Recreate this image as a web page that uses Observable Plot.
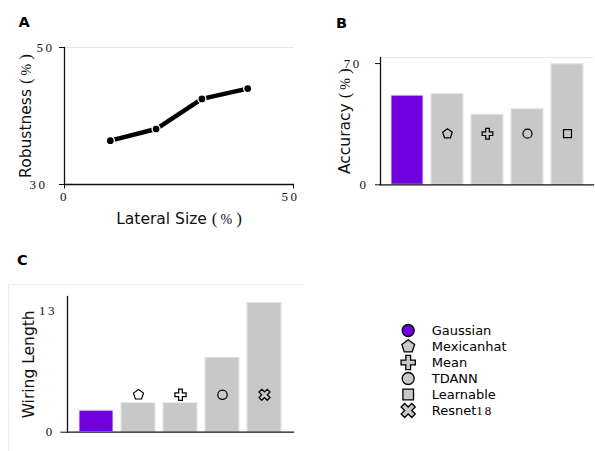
<!DOCTYPE html>
<html><head><meta charset="utf-8">
<script src="https://cdn.jsdelivr.net/npm/d3@7"></script>
<script src="https://cdn.jsdelivr.net/npm/@observablehq/plot@0.6"></script>
<style>
body{margin:0;background:#fff;}
#root{position:relative;width:595px;height:451px;overflow:hidden;background:#fff;}
#root .pane{position:absolute;}
#root [aria-label$="tick label"]{letter-spacing:2.5px;}
</style></head><body><div id="root"></div>
<script>
// ---- data ----
const lateralSize = [10, 20, 30, 40];
const robustness = [36.4, 38.1, 42.5, 44.0];
const accuracyMethods = ["Gaussian", "Mexicanhat", "Mean", "TDANN", "Learnable"];
const accuracy = [51.5, 52.4, 40.5, 43.6, 69.6];
const wiringMethods = ["Gaussian", "Mexicanhat", "Mean", "TDANN", "Resnet18"];
const wiringLength = [2.3, 3.1, 3.1, 7.95, 13.8];
const legendNames = ["Gaussian", "Mexicanhat", "Mean", "TDANN", "Learnable", "Resnet18"];
const panelLabels = ["A", "B", "C"];

const PURPLE = "#7000dd", GRAY = "#c8c8c8";
const SERIF = "'Liberation Serif', 'DejaVu Serif', serif";
const SANS = "'DejaVu Sans', sans-serif";

// ---- custom symbols ----
const pentagon = {draw(ctx, size) {
  const R = Math.sqrt(size / Math.PI) * 1.12;
  for (let k = 0; k < 5; k++) {
    const a = -Math.PI / 2 + k * 2 * Math.PI / 5;
    const x = R * Math.cos(a), y = R * Math.sin(a);
    if (k) ctx.lineTo(x, y); else ctx.moveTo(x, y);
  }
  ctx.closePath();
}};
const xcross = {draw(ctx, size) {
  const s = Math.sqrt(size / 5) / 2 * 1.05;
  const pts = [[-3,-1],[-1,-1],[-1,-3],[1,-3],[1,-1],[3,-1],[3,1],[1,1],[1,3],[-1,3],[-1,1],[-3,1]];
  pts.forEach(([px, py], k) => {
    const x = (px - py) * s / Math.SQRT2, y = (px + py) * s / Math.SQRT2;
    if (k) ctx.lineTo(x, y); else ctx.moveTo(x, y);
  });
  ctx.closePath();
}};
const symbolRange = [d3.symbolCircle, pentagon, d3.symbolCross, d3.symbolCircle, d3.symbolSquare, xcross];

const dataA = lateralSize.map((s, i) => ({size: s, robustness: robustness[i]}));
const dataB = accuracyMethods.map((m, i) => ({method: m, value: accuracy[i]}));
const dataC = wiringMethods.map((m, i) => ({method: m, value: wiringLength[i]}));
const markerLevelB = 29.5, markerLevelC = 4.0;

const baseStyle = {fontFamily: SERIF, fontSize: "13px", overflow: "visible", background: "transparent", color: "#111"};
const root = document.getElementById("root");

// background decorations (panel C box edge) and panel letters
const deco = d3.select(root).append("svg").attr("class", "pane")
  .attr("width", 595).attr("height", 451).style("left", "0px").style("top", "0px");
deco.append("path").attr("d", "M8.5,452 V284.5 H305").attr("fill", "none").attr("stroke", "#ebebeb").attr("stroke-width", 1);

function place(svg, left, top) {
  svg.classList.add("pane");
  svg.style.left = left + "px";
  svg.style.top = top + "px";
  root.appendChild(svg);
  return svg;
}
function styleLabels(svg) {
  d3.select(svg).selectAll('[aria-label$="axis label"] text').each(function() {
    const t = d3.select(this);
    t.style("font-family", SANS).style("font-size", "15.5px");
    const s = t.text();
    const m = s.match(/^(.*?)\s*\(%\)$/);
    if (!m) return;
    t.text(null);
    t.append("tspan").text(m[1] + " ");
    t.append("tspan").style("font-family", SERIF).style("font-size", "17px").style("letter-spacing", "3px").text("(");
    t.append("tspan").style("font-family", SERIF).style("font-size", "14px").style("letter-spacing", "4px").text("%");
    t.append("tspan").style("font-family", SERIF).style("font-size", "17px").text(")");
  });
}

// ---- Panel A ----
const plotA = Plot.plot({
  width: 300, height: 230,
  marginLeft: 64, marginRight: 7, marginTop: 47, marginBottom: 46,
  x: {domain: [0, 50]}, y: {domain: [30, 50]},
  style: baseStyle,
  marks: [
    Plot.frame({anchor: "top", stroke: "#e8e8e8"}),
    Plot.axisY([50], {tickSize: 5, tickPadding: 5, label: "Robustness (%)", labelAnchor: "center", labelOffset: 44.2, labelArrow: "none"}),
    Plot.axisY([30], {tickSize: 5, tickPadding: 12, label: null}),
    Plot.axisX([0], {tickSize: 4.5, tickPadding: 2.4, label: "Lateral Size (%)", labelAnchor: "center", labelOffset: 39.5, labelArrow: "none"}),
    Plot.axisX([50], {tickSize: 4.5, tickPadding: 2.4, label: null, fill: "none"}),
    Plot.axisX([50], {tickSize: 0, tickPadding: 6.9, label: null, dx: -3}),
    Plot.frame({anchor: "left", strokeWidth: 1.3}),
    Plot.frame({anchor: "bottom", strokeWidth: 1.3}),
    Plot.line(dataA, {x: "size", y: "robustness", stroke: "black", strokeWidth: 4.5}),
    Plot.dot(dataA, {x: "size", y: "robustness", r: 4, fill: "black", stroke: "white", strokeWidth: 1.3})
  ]
});
place(plotA, 0, 0);
styleLabels(plotA);

// ---- Panel B ----
const plotB = Plot.plot({
  width: 295, height: 230,
  marginLeft: 80, marginRight: 2, marginTop: 57, marginBottom: 45.7,
  x: {domain: accuracyMethods, paddingInner: 0.2, paddingOuter: 0.24, axis: null},
  y: {domain: [0, 73.5]},
  symbol: {domain: legendNames, range: symbolRange},
  color: {type: "identity"},
  style: baseStyle,
  marks: [
    Plot.frame({anchor: "top", stroke: "#e8e8e8"}),
    Plot.barY(dataB, {x: "method", y: "value", fill: d => d.method === "Gaussian" ? PURPLE : GRAY, stroke: "#e4e4e4", strokeWidth: 1}),
    Plot.dot(dataB.filter(d => d.method !== "Gaussian"), {x: "method", y: () => markerLevelB, symbol: "method", r: 4.5, fill: "none", stroke: "black", strokeWidth: 1.2}),
    Plot.axisY([70], {tickSize: 5, tickPadding: 13.7, label: "Accuracy (%)", labelAnchor: "center", labelOffset: 41.7, labelArrow: "none"}),
    Plot.axisY([0], {tickSize: 5, tickPadding: 7, label: null}),
    Plot.frame({anchor: "left", strokeWidth: 1.3}),
    Plot.frame({anchor: "bottom", strokeWidth: 1.3})
  ]
});
place(plotB, 300, 0);
styleLabels(plotB);

// ---- Panel C ----
const plotC = Plot.plot({
  width: 310, height: 211,
  marginLeft: 67, marginRight: 17, marginTop: 56, marginBottom: 19.3,
  x: {domain: wiringMethods, paddingInner: 0.2, paddingOuter: 0.245, axis: null},
  y: {domain: [0, 14.5]},
  symbol: {domain: legendNames, range: symbolRange},
  color: {type: "identity"},
  style: baseStyle,
  marks: [
    Plot.barY(dataC, {x: "method", y: "value", fill: d => d.method === "Gaussian" ? PURPLE : GRAY, stroke: "#e4e4e4", strokeWidth: 1}),
    Plot.dot(dataC.filter(d => d.method !== "Gaussian"), {x: "method", y: () => markerLevelC, symbol: "method", r: 4.7, fill: "none", stroke: "black", strokeWidth: 1.2}),
    Plot.axisY([13], {tickSize: 0, tickPadding: 10.4, label: "Wiring Length", labelAnchor: "center", labelOffset: 45, labelArrow: "none"}),
    Plot.axisY([0], {tickSize: 6.7, tickPadding: 6, label: null}),
    Plot.frame({anchor: "left", strokeWidth: 1.3}),
    Plot.frame({anchor: "bottom", strokeWidth: 1.3})
  ]
});
place(plotC, 0, 240);
styleLabels(plotC);

// ---- Legend ----
const plotL = Plot.plot({
  width: 200, height: 120,
  marginLeft: 37.7, marginRight: 0, marginTop: 10, marginBottom: 10,
  y: {type: "point", domain: legendNames, axis: null},
  symbol: {domain: legendNames, range: symbolRange},
  color: {type: "identity"},
  style: {...baseStyle, fontFamily: SANS},
  marks: [
    Plot.dot(legendNames, {y: d => d, frameAnchor: "left", symbol: d => d, r: 6, fill: d => d === "Gaussian" ? PURPLE : GRAY, stroke: "black", strokeWidth: 1.3}),
    Plot.text(legendNames, {y: d => d, frameAnchor: "left", text: d => d, textAnchor: "start", dx: 23.5, fontSize: 13, fill: "black"})
  ]
});
place(plotL, 370, 310);
d3.select(plotL).selectAll("text").each(function() {
  const t = d3.select(this);
  const m = t.text().match(/^(\D+)(\d+)$/);
  if (!m) return;
  t.text(null);
  t.append("tspan").text(m[1]);
  t.append("tspan").attr("font-family", SERIF).attr("letter-spacing", "2px").text(m[2]);
});

// panel letters
const letterPos = [[18.5, 27], [336, 28], [17, 264.5]];
panelLabels.forEach((l, i) => {
  deco.append("text").attr("x", letterPos[i][0]).attr("y", letterPos[i][1])
    .attr("font-family", SANS).attr("font-weight", "bold").attr("font-size", 14.5).attr("fill", "black").text(l);
});
</script></body></html>
